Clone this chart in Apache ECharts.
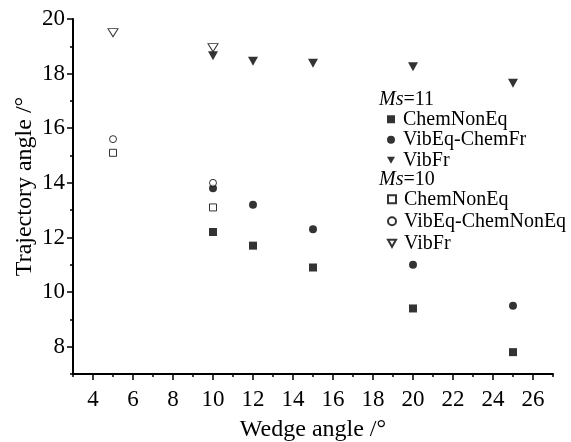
<!DOCTYPE html>
<html>
<head>
<meta charset="utf-8">
<script src="https://cdn.jsdelivr.net/npm/echarts@6/dist/echarts.min.js"></script>
<style>html,body{margin:0;padding:0;background:#fff}#c{width:571px;height:442px}</style>
</head>
<body>
<div id="c"></div>
<script>
// Ms=11
const ms11Wedge = [10, 12, 15, 20, 25];
const ms11ChemNonEq = [12.2, 11.7, 10.9, 9.4, 7.8];
const ms11VibEqChemFr = [13.8, 13.2, 12.3, 11.0, 9.5];
const ms11VibFr = [18.65, 18.45, 18.38, 18.25, 17.65];
// Ms=10
const ms10Wedge = [5, 10];
const ms10ChemNonEq = [15.1, 13.1];
const ms10VibEqChemNonEq = [15.6, 14.0];
const ms10VibFr = [19.5, 18.95];

const xTicks = [4, 6, 8, 10, 12, 14, 16, 18, 20, 22, 24, 26];
const xMinorTicks = [3, 5, 7, 9, 11, 13, 15, 17, 19, 21, 23, 25, 27];
const yTicks = [8, 10, 12, 14, 16, 18, 20];
const yMinorTicks = [7, 9, 11, 13, 15, 17, 19];

const FONT = '"Liberation Serif", "Times New Roman", serif';
const pair = (xs, ys) => xs.map((x, i) => [x, ys[i]]);
const DOWN_TRI = 'path://M0,0 L10,0 L5,9 Z';

const displayNames = {
  'ChemNonEq11': 'ChemNonEq',
  'VibEq-ChemFr11': 'VibEq-ChemFr',
  'VibFr11': 'VibFr',
  'ChemNonEq10': 'ChemNonEq',
  'VibEq-ChemNonEq10': 'VibEq-ChemNonEq',
  'VibFr10': 'VibFr'
};

const filled = { color: '#000' };
const hollow = { color: '#fff', borderColor: '#000', borderWidth: 1 };

const series = [
  { name: 'ChemNonEq11', data: pair(ms11Wedge, ms11ChemNonEq), symbol: 'rect', symbolSize: 8, itemStyle: filled },
  { name: 'VibEq-ChemFr11', data: pair(ms11Wedge, ms11VibEqChemFr), symbol: 'circle', symbolSize: 8, itemStyle: filled },
  { name: 'VibFr11', data: pair(ms11Wedge, ms11VibFr), symbol: DOWN_TRI, symbolSize: [10, 9], itemStyle: filled },
  { name: 'ChemNonEq10', data: pair(ms10Wedge, ms10ChemNonEq), symbol: 'rect', symbolSize: 7, itemStyle: hollow },
  { name: 'VibEq-ChemNonEq10', data: pair(ms10Wedge, ms10VibEqChemNonEq), symbol: 'circle', symbolSize: 7, itemStyle: hollow },
  { name: 'VibFr10', data: pair(ms10Wedge, ms10VibFr), symbol: DOWN_TRI, symbolSize: [10, 8], itemStyle: hollow }
].map(s => Object.assign({ type: 'scatter', animation: false, emphasis: { disabled: true }, xAxisIndex: 0, yAxisIndex: 0 }, s));

const legendBase = {
  orient: 'vertical',
  itemWidth: 8,
  itemHeight: 8,
  itemGap: 0,
  selectedMode: false,
  textStyle: { fontFamily: FONT, fontSize: 20, color: '#000', lineHeight: 20.5, padding: [0, 0, 0, 3] },
  formatter: n => displayNames[n]
};

const axisText = { fontFamily: FONT, fontSize: 23, color: '#000' };

const chart = echarts.init(document.getElementById('c'), null, { renderer: 'canvas' });
chart.setOption({
  backgroundColor: '#fff',
  animation: false,
  grid: { left: 73, right: 18, top: 19, bottom: 68, containLabel: false, outerBoundsMode: 'none' },
  xAxis: [{
    type: 'value', min: 3, max: 27,
    name: 'Wedge angle /°', nameLocation: 'middle', nameGap: 44,
    nameTextStyle: { fontFamily: FONT, fontSize: 24, color: '#000' },
    axisLine: { show: true, lineStyle: { color: '#000', width: 2 } },
    axisTick: { show: true, length: 6, inside: false, customValues: xTicks, lineStyle: { color: '#000', width: 1.5 } },
    axisLabel: Object.assign({ margin: 14, customValues: xTicks }, axisText),
    splitLine: { show: false }
  }, {
    type: 'value', min: 3, max: 27, position: 'bottom',
    axisLine: { show: false },
    axisTick: { show: true, length: 3, inside: false, customValues: xMinorTicks, lineStyle: { color: '#000', width: 1.5 } },
    axisLabel: { show: false },
    splitLine: { show: false }
  }],
  yAxis: [{
    type: 'value', min: 7, max: 20,
    name: 'Trajectory angle /°', nameLocation: 'middle', nameGap: 36, nameRotate: 90,
    nameMoveOverlap: false,
    nameTextStyle: { fontFamily: FONT, fontSize: 24, color: '#000', padding: [0, 0, 0, 20] },
    axisLine: { show: true, lineStyle: { color: '#000', width: 2 } },
    axisTick: { show: true, length: 6, inside: false, customValues: yTicks, lineStyle: { color: '#000', width: 1.5 } },
    axisLabel: Object.assign({ margin: 8, customValues: yTicks }, axisText),
    splitLine: { show: false }
  }, {
    type: 'value', min: 7, max: 20, position: 'left',
    axisLine: { show: false },
    axisTick: { show: true, length: 3, inside: false, customValues: yMinorTicks, lineStyle: { color: '#000', width: 1.5 } },
    axisLabel: { show: false },
    splitLine: { show: false }
  }],
  legend: [
    Object.assign({}, legendBase, { left: 382, top: 104, data: ['ChemNonEq11', 'VibEq-ChemFr11', 'VibFr11'] }),
    Object.assign({}, legendBase, { left: 382, top: 184, itemGap: 1.5, data: ['ChemNonEq10', 'VibEq-ChemNonEq10', 'VibFr10'] })
  ],
  graphic: [
    { type: 'text', left: 379, top: 90, style: { text: '{i|Ms}=11', rich: { i: { fontStyle: 'italic', fontFamily: FONT, fontSize: 20 } }, fontFamily: FONT, fontSize: 20, fill: '#000' } },
    { type: 'text', left: 379, top: 170, style: { text: '{i|Ms}=10', rich: { i: { fontStyle: 'italic', fontFamily: FONT, fontSize: 20 } }, fontFamily: FONT, fontSize: 20, fill: '#000' } }
  ],
  series: series
});
</script>
</body>
</html>
